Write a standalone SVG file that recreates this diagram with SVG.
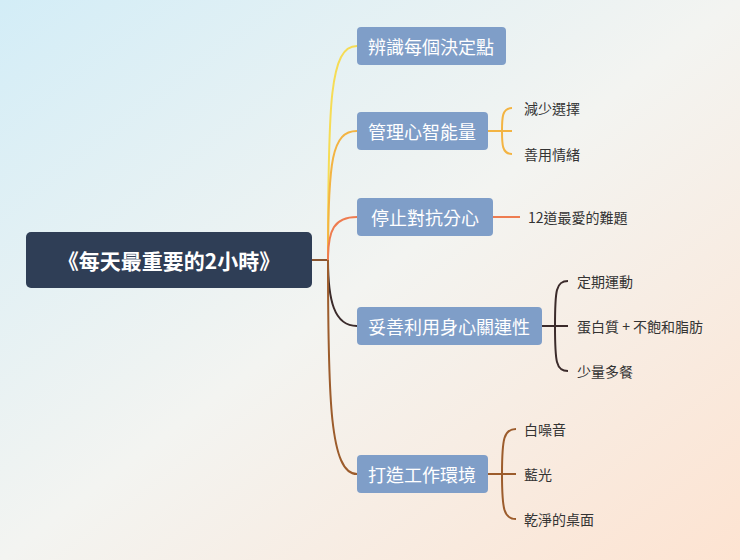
<svg xmlns="http://www.w3.org/2000/svg" width="740" height="560" viewBox="0 0 740 560">
<defs>
<linearGradient id="bg" x1="0" y1="0" x2="1" y2="1">
<stop offset="0" stop-color="#d3edf7"/><stop offset="0.5" stop-color="#f3f4f1"/><stop offset="1" stop-color="#fde3d1"/>
</linearGradient>
<style>
text{font-family:"Noto Sans CJK TC","Noto Sans",sans-serif;dominant-baseline:central}
.b rect{fill:#7f9ec8}
.b text{fill:#fff;font-size:18px}
.l{fill:#333;font-size:14px}
.c path{fill:none;stroke-width:2}
</style>
</defs>
<rect width="740" height="560" fill="url(#bg)"/>
<g class="c">
<path d="M312 260 H328" stroke="#8a5530"/>
<path d="M328 260 C328 100 330 46 357 46" stroke="#f6dc55"/>
<path d="M328 260 C328 160 332 131 357 131" stroke="#f3b443"/>
<path d="M328 260 C328 230 334 217 357 217" stroke="#ee7c50"/>
<path d="M328 260 C328 300 334 326 357 326" stroke="#3b2b2b"/>
<path d="M328 260 C328 400 330 474 357 474" stroke="#9c5c2c"/>
<path d="M488 131 H512 M512 108 C502 108 502 118 502 131 C502 144 502 154 512 154" stroke="#f3b443"/>
<path d="M493 217 H520" stroke="#ee7c50"/>
<path d="M542 326 H568 M568 281 C556 281 555 290 555 326 C555 362 556 371 568 371" stroke="#3b2b2b"/>
<path d="M488 474 H516 M516 429 C504 429 502 438 502 474 C502 510 504 519 516 519" stroke="#9c5c2c"/>
</g>
<g id="root"><rect x="26" y="232" width="286" height="56" rx="5" fill="#2f3e56"/><text x="169" y="260" text-anchor="middle" fill="#fff" font-size="21" font-weight="bold">《每天最重要的2小時》</text></g>
<g id="n1" class="b"><rect x="357" y="27" width="149" height="38" rx="4"/><text x="431" y="46" text-anchor="middle">辨識每個決定點</text></g>
<g id="n2" class="b"><rect x="357" y="112" width="131" height="38" rx="4"/><text x="422" y="131" text-anchor="middle">管理心智能量</text></g>
<g id="n3" class="b"><rect x="357" y="198" width="136" height="38" rx="4"/><text x="425" y="217" text-anchor="middle">停止對抗分心</text></g>
<g id="n4" class="b"><rect x="357" y="307" width="185" height="38" rx="4"/><text x="449" y="326" text-anchor="middle">妥善利用身心關連性</text></g>
<g id="n5" class="b"><rect x="357" y="455" width="131" height="38" rx="4"/><text x="422" y="474" text-anchor="middle">打造工作環境</text></g>
<g id="leaves">
<text class="l" x="524" y="108">減少選擇</text>
<text class="l" x="524" y="154">善用情緒</text>
<text class="l" x="528" y="217">12道最愛的難題</text>
<text class="l" x="577" y="281">定期運動</text>
<text class="l" x="577" y="326">蛋白質 + 不飽和脂肪</text>
<text class="l" x="577" y="371">少量多餐</text>
<text class="l" x="524" y="429">白噪音</text>
<text class="l" x="524" y="474">藍光</text>
<text class="l" x="524" y="519">乾淨的桌面</text>
</g>
</svg>
